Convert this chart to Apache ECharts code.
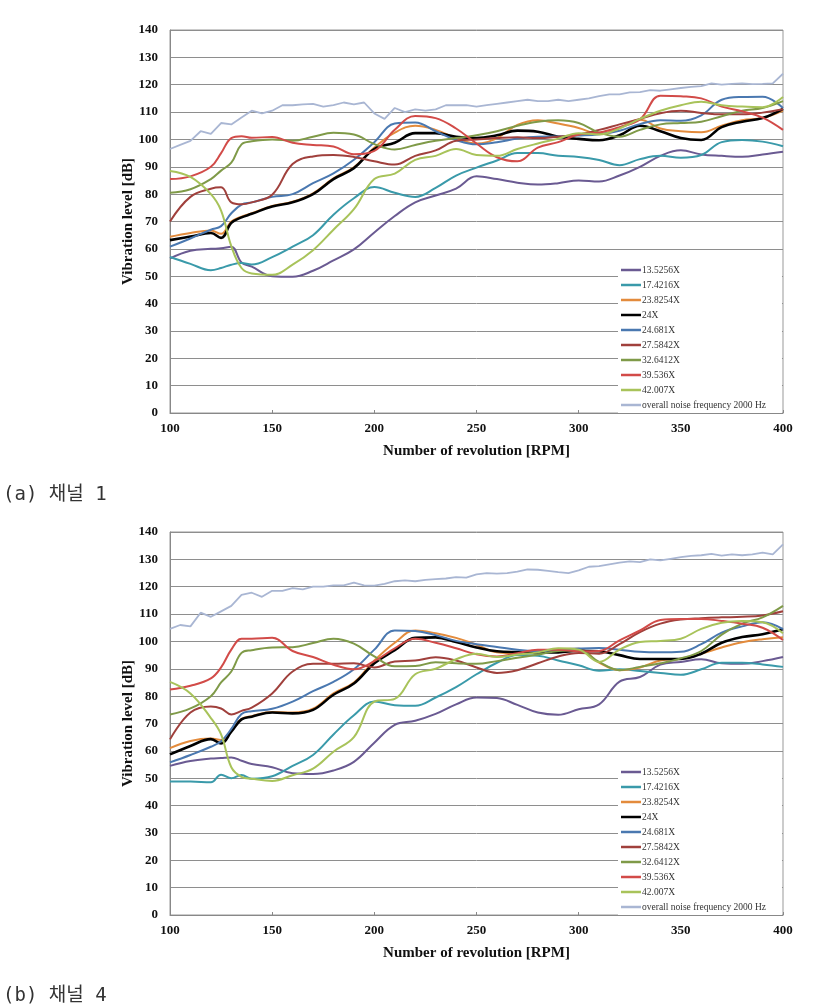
<!DOCTYPE html>
<html><head><meta charset="utf-8">
<script src="https://cdn.jsdelivr.net/npm/echarts@6/dist/echarts.min.js"></script>
<style>html,body{margin:0;padding:0;background:#fff}#c{width:815px;height:1008px}</style>
</head><body><div id="c"></div>
<script>
// ---- shared x values ----
const rpm = [100,110,120,125,130,135,140,150,160,170,180,190,200,210,220,230,240,250,260,270,280,290,300,310,320,330,340,350,360,370,380,390,400];
const rpmNoise = [100,105,110,115,120,125,130,135,140,145,150,155,160,165,170,175,180,185,190,195,200,205,210,215,220,225,230,235,240,245,250,255,260,265,270,275,280,285,290,295,300,305,310,315,320,325,330,335,340,345,350,355,360,365,370,375,380,385,390,395,400];
const seriesNames = ['13.5256X','17.4216X','23.8254X','24X','24.681X','27.5842X','32.6412X','39.536X','42.007X','overall noise frequency 2000 Hz'];
const xTicks = [100,150,200,250,300,350,400];
const yTicks = [0,10,20,30,40,50,60,70,80,90,100,110,120,130,140];

// ---- (a) channel 1 ----
const a_13_5256X = [56.5,59.3,60,60.2,60.8,55,53.5,50,49.8,52,55.8,59.8,66,72,77,79.5,82,86.5,85.5,84.2,83.5,84,85,84.6,86.8,90,94,96,94.5,94,93.7,94.5,95.5];
const a_17_4216X = [57,54.5,52.2,53,54.2,54.8,54.3,57,60.8,65,72.5,78.5,82.6,80.5,79,82.3,86.8,89.7,92.3,95,95,94,93.6,92.5,90.6,92.8,94,93.3,94.3,99,99.8,99.2,97.5];
const a_23_8254X = [64.4,65.8,66.7,65.5,70,71.8,73,75.7,77.2,80.3,85.8,89.8,97,102.5,105,103.5,100.5,98.5,100.5,105.3,107,105.8,104.2,102,104.3,107.2,104,103,102.6,105,107,107.8,110.5];
const a_24X       = [63.2,64.5,65.8,64,69.5,71.5,72.8,75.5,77,80,85.5,89.5,96.5,98.8,102.3,102.3,101,100.5,101.5,103.2,102.8,101,100.2,99.7,101.5,105,103,100.5,99.8,104.5,106.5,107.8,111.2];
const a_24_681X   = [60.8,63.8,67,68.3,73,76.2,77,79,80,84,87.6,92.6,99,105.8,106.2,103,99.8,98.2,99,100.3,101,101.1,101.4,101.9,103.2,105.6,107,106.8,108.8,114.5,115.5,115.6,111.5];
const a_27_5842X  = [70,79,82,82.5,77,76.3,77,79.8,91,93.8,94.3,93.6,92,90.8,94,96,99.5,100,100.5,100.8,100.5,101,101.8,103.5,105.5,107.5,109.6,110.5,109.7,109.2,109.2,109.8,111];
const a_32_6412X  = [80.5,81.8,85.5,88.6,91.5,98.2,99.3,100,99.5,101,102.4,101.8,98.3,96.3,98,99.5,100.5,101.5,103,105,106.5,107,106,102.5,101,103.5,105.5,106,106.5,108.5,110.5,111.5,114];
const a_39_536X   = [85.5,86.5,90,95,100.5,101.2,100.6,100.9,98.8,98,97.4,94.6,95.8,103.5,108.6,107.8,104,98.5,93.5,92,97,99,101.8,102.5,104.5,107.3,116,115.8,115,112,110.3,108,103.5];
const a_42_007X   = [88.5,86.3,80,74,61,53,51,50.5,54.2,59.5,67,74.5,85.5,87.5,92.5,94,96.5,94.3,94,96.5,98.5,100.3,102.3,101.8,104,107.5,110.5,112.5,113.8,112.5,112,111.8,115.5];
const a_noise     = [96.5,98,99.5,103,102,106,105.5,108,110.5,109.5,110.5,112.5,112.5,112.8,113,112,112.5,113.5,112.8,113.5,109.5,107.5,111.5,110,111,110.5,111,112.5,112.5,112.5,112,112.5,113,113.5,114,114.5,114,114,114.5,114,114.5,115,115.8,116.5,116.5,117.2,117.3,118,117.8,118.3,118.8,119.2,119.5,120.5,120,120.3,120.5,120.2,120.3,120.5,124];

// ---- (b) channel 4 ----
const b_13_5256X = [54.5,56.3,57.2,57.4,57.6,56.4,55.2,54,51.8,51.5,52.8,56,63,69.5,71,73.5,77,79.5,79.3,76.8,74,73.2,75.2,77,85.3,87,91.5,92.5,93.5,92,91.8,92.8,94.3];
const b_17_4216X = [48.8,48.8,48.5,51.3,50,51.2,49.8,50.7,54.5,58.5,66,73,78,76.7,76.5,79.5,83.3,88,92.2,95,94.8,93,91.3,89.3,89.8,89.2,88.5,87.8,89.8,92.2,92.2,91.6,90.7];
const b_23_8254X = [61,63.6,64.5,64,67.5,71.7,72.7,74.2,74,75.4,81,85,93,99.5,104,103,101.3,98.8,96,95.6,96.2,97.2,97.3,92.3,89.5,90.5,93,93.7,95.5,97.8,99.7,100.8,101.5];
const b_24X       = [58.7,61.8,64.3,62.7,67,71.5,72.5,74,73.7,75,80.5,84.6,92,96.8,101.3,101.5,99.8,97.8,96.4,96.1,96,96,96.6,96.4,95,93.6,93.6,93.6,95.5,99.5,101.6,102.6,104.5];
const b_24_681X   = [55.8,58.5,61.5,63.5,68,73.5,74.5,75.4,78,81.8,85.2,89.8,97,104,103.8,102.3,100.2,99,98,97,96.4,97,97.4,97.6,97,96.2,96,96.2,99,103.2,105.5,107,104.5];
const b_27_5842X  = [64.2,74,76.2,75.5,73.3,74.6,75.8,81,89,91.8,91.8,92,90.5,92.7,93,94.2,93,90.5,88.5,89.5,92,94.5,95.8,95.5,99,103.4,106.5,108,108.5,108.8,109,109.5,111];
const b_32_6412X  = [73.3,75.5,80,85,89,95.8,96.8,97.8,97.9,99.4,101,99.2,94.5,90.9,91,92.4,92,91.8,92.8,94,95.2,96.5,96.8,92.5,89.5,90.7,92,93.8,96.5,102.5,106.5,108.8,113];
const b_39_536X   = [82.4,83.8,86.5,90.5,97,101,101,101.3,96.5,94.3,91.5,89.8,92.8,97.5,101,99.5,97.5,95.3,94.5,95.7,97,97,96.4,96.5,100.4,104,107.8,108.2,108.2,107.5,106.5,105,100.5];
const b_42_007X   = [85.2,81,72,66,54,50.5,49.8,49,51.1,53.5,59.7,65,78,79,88,90,93.5,95.5,94.3,95.2,96,97.5,97,92.5,97,99.8,100.2,101,104.6,106.8,107.5,107,103];
const b_noise     = [104.6,106,105.5,110.5,109,111,113,117,117.8,116.3,118.5,118.5,119.5,119,120,120,120.5,120.5,121.5,120.5,120.4,121,122,122.3,122,122.5,122.8,123,123.5,123.3,124.5,125,124.8,125,125.5,126.3,126.2,125.8,125.3,125,126,127.3,127.5,128.2,128.8,129.3,129,130,129.6,130.2,130.8,131.3,131.5,132,131.4,131.8,131.5,131.8,132.5,131.8,135.5];

const colors = ['#6a5a92','#3a9aaa','#e38b3c','#000000','#4a78b0','#a0403c','#7f9a48','#d24b48','#a8c35a','#a9b6d3'];
const widths = [2,2,2,2.6,2,2,2,2,2,1.8];

const aSets = [a_13_5256X,a_17_4216X,a_23_8254X,a_24X,a_24_681X,a_27_5842X,a_32_6412X,a_39_536X,a_42_007X,a_noise];
const bSets = [b_13_5256X,b_17_4216X,b_23_8254X,b_24X,b_24_681X,b_27_5842X,b_32_6412X,b_39_536X,b_42_007X,b_noise];

const serif = "'Liberation Serif','Times New Roman',serif";
function mkSeries(sets, gi){
  return sets.map((vals,i)=>{
    const xs = (i===9) ? rpmNoise : rpm;
    return {
      name: seriesNames[i], type:'line', xAxisIndex:gi, yAxisIndex:gi,
      data: xs.map((x,k)=>[x, vals[k]]),
      showSymbol:false, symbol:'none', smooth: i===9 ? false : 0.4,
      lineStyle:{color:colors[i], width:widths[i]}, itemStyle:{color:colors[i]},
      z: 2+i, animation:false
    };
  });
}
function xAx(gi){
  return {gridIndex:gi, type:'value', min:xTicks[0], max:xTicks[xTicks.length-1], interval:50,
    name:'Number of revolution [RPM]', nameLocation:'middle', nameGap:31,
    nameTextStyle:{fontFamily:serif, fontWeight:'bold', fontSize:15, color:'#111'},
    axisLine:{show:true, lineStyle:{color:'#888', width:1}},
    axisTick:{show:true, inside:true, length:3, lineStyle:{color:'#888'}},
    axisLabel:{fontFamily:serif, fontWeight:'bold', fontSize:13, color:'#111', margin:9},
    splitLine:{show:false}};
}
function yAx(gi){
  return {gridIndex:gi, type:'value', min:yTicks[0], max:yTicks[yTicks.length-1], interval:10,
    name:'Vibration level [dB]', nameLocation:'middle', nameGap:34, nameRotate:90,
    nameMoveOverlap:false,
    nameTextStyle:{fontFamily:serif, fontWeight:'bold', fontSize:15, color:'#111'},
    axisLine:{show:true, lineStyle:{color:'#888', width:1}},
    axisTick:{show:false},
    axisLabel:{fontFamily:serif, fontWeight:'bold', fontSize:13, color:'#111', margin:12},
    splitLine:{show:true, lineStyle:{color:'#8e8e8e', width:1}}};
}
function leg(top){
  return {orient:'vertical', left:618, top:top, data:seriesNames, icon:'rect',
    itemWidth:20, itemHeight:2.5, itemGap:5, padding:[3,16,3,3],
    backgroundColor:'#fff',
    textStyle:{fontFamily:serif, fontSize:9.5, color:'#333', lineHeight:10, padding:[0,0,0,-4]},
    selectedMode:false};
}
const chart = echarts.init(document.getElementById('c'), null, {renderer:'canvas'});
chart.setOption({
  backgroundColor:'#fff',
  animation:false,
  grid:[
    {left:170, top:30, width:613, height:383, show:true, borderColor:'#999', borderWidth:1, backgroundColor:'transparent'},
    {left:170, top:532, width:613, height:383, show:true, borderColor:'#999', borderWidth:1, backgroundColor:'transparent'}
  ],
  xAxis:[xAx(0), xAx(1)],
  yAxis:[yAx(0), yAx(1)],
  legend:[leg(262), leg(764)],
  series:[...mkSeries(aSets,0), ...mkSeries(bSets,1)],
  graphic:[
    {type:'text', left:3, top:486, style:{text:'(a) 채널 1', font:"19px 'DejaVu Sans Mono','Noto Sans CJK KR'", fill:'#333'}},
    {type:'text', left:3, top:987, style:{text:'(b) 채널 4', font:"19px 'DejaVu Sans Mono','Noto Sans CJK KR'", fill:'#333'}}
  ]
});
</script></body></html>
